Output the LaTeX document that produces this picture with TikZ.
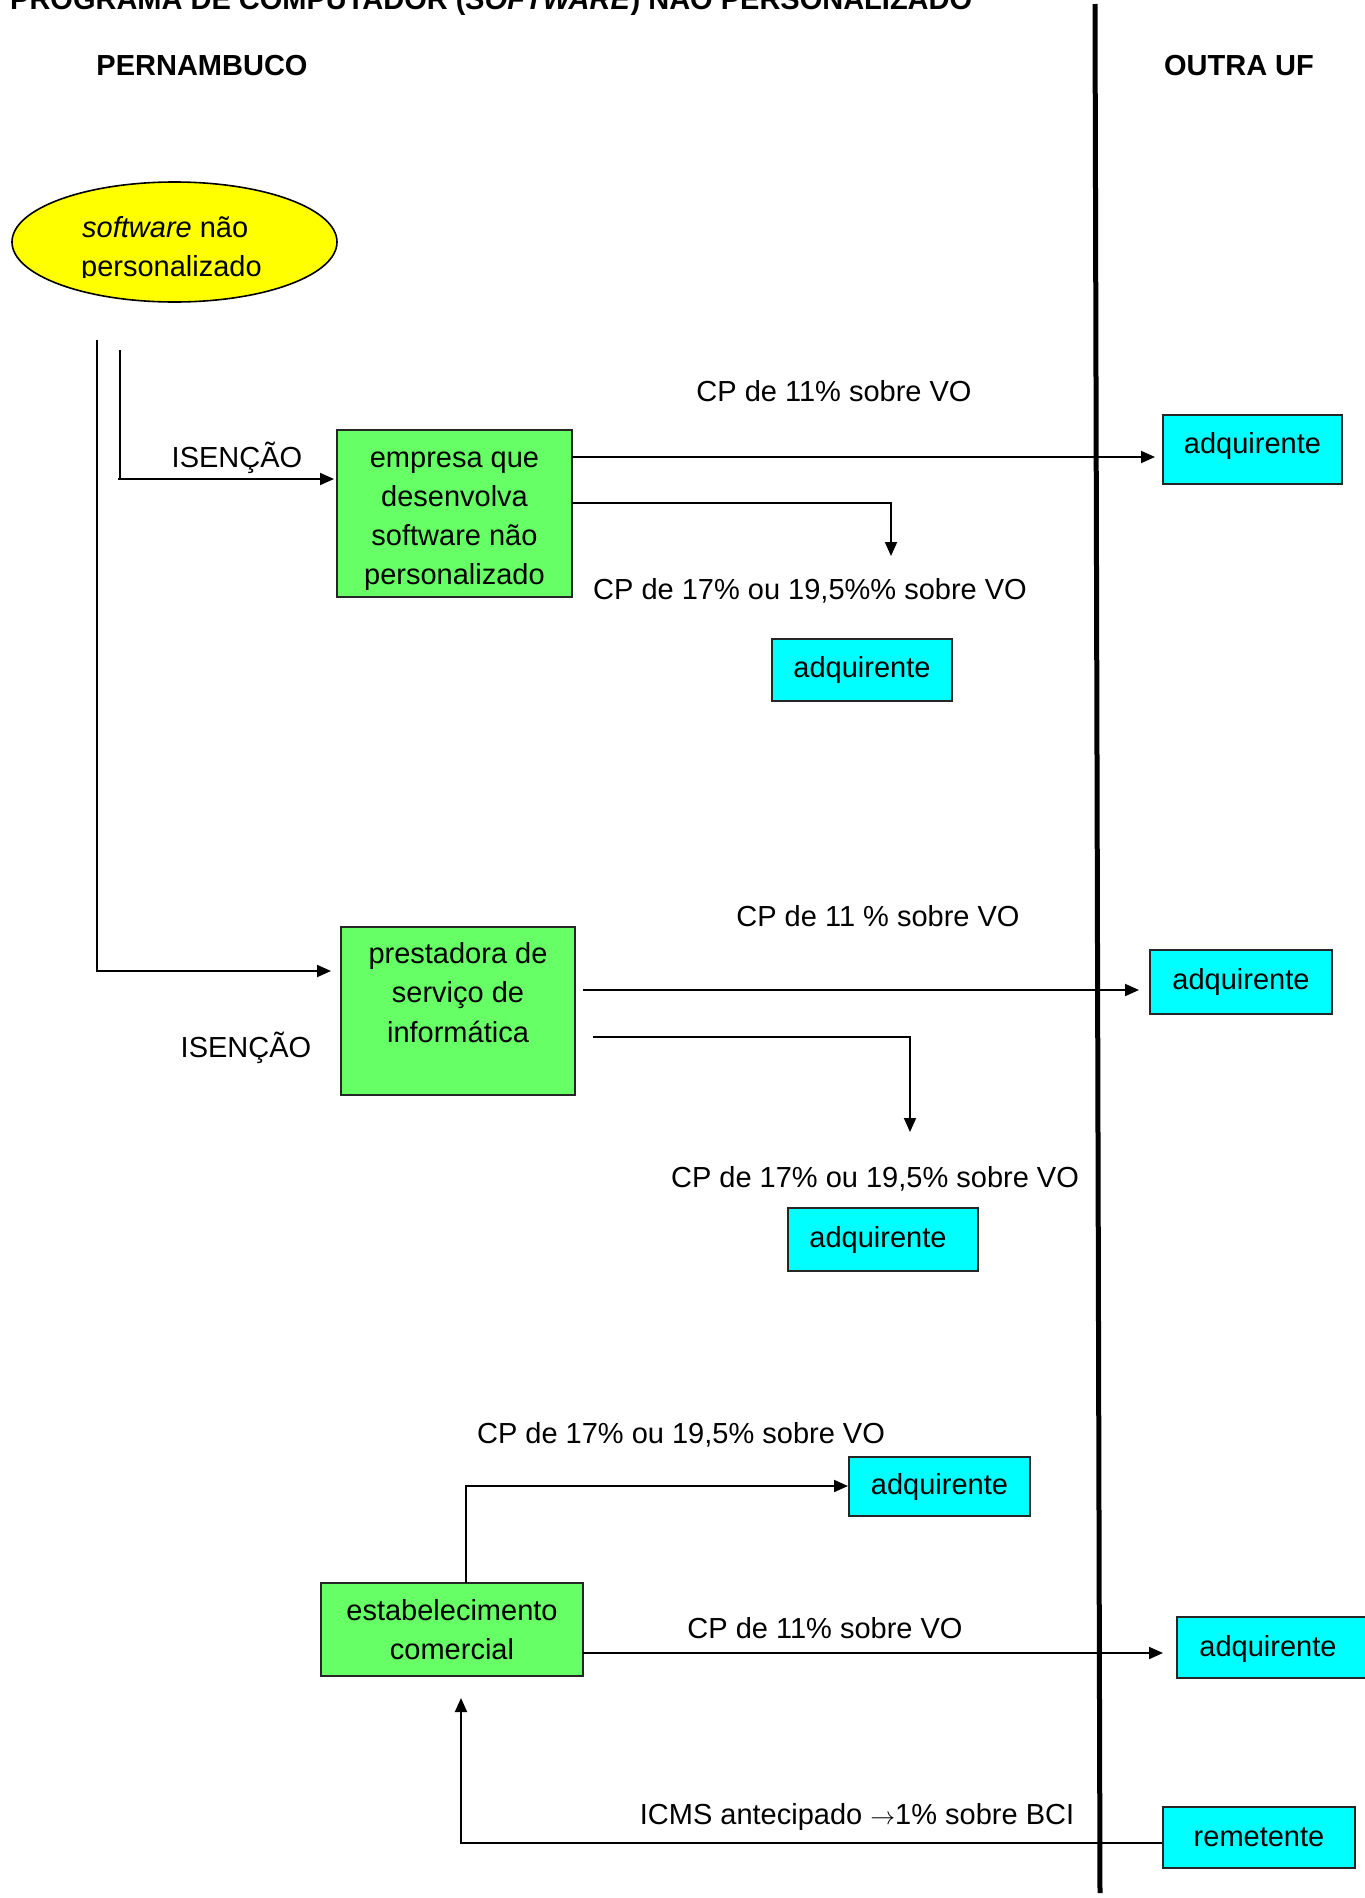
\documentclass[tikz,border=0pt]{standalone}
\usepackage{fontspec}
\setmainfont{Liberation Sans}
\usetikzlibrary{arrows.meta,shapes.geometric}
\definecolor{gfill}{HTML}{66FF66}
\definecolor{cfill}{HTML}{00FFFF}
\definecolor{yfill}{HTML}{FFFF00}
\newcommand\myfs{\fontsize{29}{37.5}\selectfont}
\begin{document}
\begin{tikzpicture}[x=1pt,y=-1pt,
  lbl/.style={font=\myfs, inner sep=0pt, anchor=base},
  hdr/.style={font=\myfs\bfseries, inner sep=0pt, anchor=base},
  gbox/.style={draw=black!85, line width=2pt, fill=gfill, font=\myfs, align=center, inner sep=0pt},
  cbox/.style={draw=black!85, line width=2pt, fill=cfill, font=\myfs, inner sep=0pt},
  conn/.style={line width=1.9pt},
  arr/.style={conn, -{Triangle[length=14pt,width=12pt]}},
  divider/.style={line width=5pt}
]
\clip (0,0) rectangle (1365,1898);
\fill[white] (0,0) rectangle (1365,1898);

% headings
\node[hdr, anchor=base west] (title) at (10,9) {PROGRAMA DE COMPUTADOR (\textit{SOFTWARE}) NÃO PERSONALIZADO};
\node[hdr] (pe) at (202,75) {PERNAMBUCO};
\node[hdr] (uf) at (1239,75) {OUTRA UF};

% ellipse
\node[ellipse, draw=black, line width=1.6pt, fill=yfill, minimum width=325pt, minimum height=120pt, inner sep=0pt] (sw) at (174.5,242) {};
\begin{scope}
  \clip (40,190) rectangle (320,277.5);
  \node[lbl, anchor=base west] (swt1) at (82,237) {\textit{software} não};
  \node[lbl, anchor=base west] (swt2) at (81,276.5) {personalizado};
\end{scope}

% boxes
\node[gbox, minimum width=235pt, minimum height=167pt] (emp) at (454.5,513.5) {};
\begin{scope}
  \clip (337,430) rectangle (572,597);
  \node[font=\fontsize{29}{39}\selectfont, align=center, inner sep=0pt, anchor=north] (empT) at (454.5,446) {\vphantom{d}empresa que\\desenvolva\\software não\\personalizado};
\end{scope}
\node[gbox, minimum width=234pt, minimum height=168pt] (prest) at (458,1011) {};
\node[font=\fontsize{29}{39.5}\selectfont, align=center, inner sep=0pt, anchor=north] (prestT) at (458,942) {prestadora de\\serviço de\\informática};
\node[gbox, minimum width=262pt, minimum height=93pt, font=\fontsize{29}{38.5}\selectfont] (est) at (452,1629.5) {estabelecimento\\comercial};

\node[cbox, minimum width=179pt, minimum height=69pt, text depth=14pt] (adq1) at (1252.5,449.5) {adquirente};
\node[cbox, minimum width=180pt, minimum height=62pt] (adq2) at (862,670) {adquirente};
\node[cbox, minimum width=182pt, minimum height=64pt] (adq3) at (1241,982) {adquirente};
\node[cbox, minimum width=190pt, minimum height=63pt] (adq4) at (883,1239.5) {adquirente\hspace*{10pt}};
\node[cbox, minimum width=181pt, minimum height=59pt] (adq5) at (939.5,1486.5) {adquirente};
\node[cbox, minimum width=200pt, minimum height=61pt] (adq6) at (1277,1647.5) {};
\node[lbl] (adq6t) at (1268,1656) {adquirente};
\node[cbox, minimum width=192pt, minimum height=61pt] (rem) at (1259,1837.5) {remetente};

% labels
\node[lbl] (l1) at (834,401.5) {CP de 11\% sobre VO};
\node[lbl] (l2) at (810,599.5) {CP de 17\% ou 19,5\%\% sobre VO};
\node[lbl] (l3) at (878,926.5) {CP de 11 \% sobre VO};
\node[lbl] (l4) at (875,1187.5) {CP de 17\% ou 19,5\% sobre VO};
\node[lbl] (l5) at (681,1443.5) {CP de 17\% ou 19,5\% sobre VO};
\node[lbl] (l6) at (825,1638.5) {CP de 11\% sobre VO};
\node[lbl] (l7) at (857,1824.5) {ICMS antecipado $\rightarrow$1\% sobre BCI};
\node[lbl] (is1) at (237,467) {ISENÇÃO};
\node[lbl] (is2) at (246,1057.5) {ISENÇÃO};

% connector coordinates
\coordinate (aTop) at (97,340);
\coordinate (aBot) at (97,971);
\coordinate (bTop) at (120,350);
\coordinate (bBot) at (120,479);
\coordinate (bStart) at (118,479);
\coordinate (e1s) at (572,457);
\coordinate (e2s) at (572,503);
\coordinate (e2c) at (891,503);
\coordinate (e2e) at (891,556);
\coordinate (p1s) at (583,990);
\coordinate (p2s) at (593,1037);
\coordinate (p2c) at (910,1037);
\coordinate (p2e) at (910,1132);
\coordinate (s1s) at (466,1583);
\coordinate (s1c) at (466,1486);
\coordinate (s2s) at (583,1653);
\coordinate (r1c) at (461,1843);
\coordinate (r1e) at (461,1698);

% connectors
\draw[conn] (bTop) -- (bBot);
\draw[arr, shorten >=2pt] (bStart) -- (emp.west |- bStart);
\draw[arr, shorten >=9pt] (aTop) -- (aBot) -- (prest.west |- aBot);
\draw[arr, shorten >=7pt] (e1s) -- (adq1.west |- e1s);
\draw[arr] (e2s) -- (e2c) -- (e2e);
\draw[arr, shorten >=10pt] (p1s) -- (adq3.west |- p1s);
\draw[arr] (p2s) -- (p2c) -- (p2e);
\draw[arr] (s1s) -- (s1c) -- (adq5.west |- s1c);
\draw[arr, shorten >=13pt] (s2s) -- (adq6.west |- s2s);
\draw[arr] (rem.west |- r1c) -- (r1c) -- (r1e);

% divider
\draw[divider] (1095,4) -- (1100,1893);
\end{tikzpicture}
\end{document}
